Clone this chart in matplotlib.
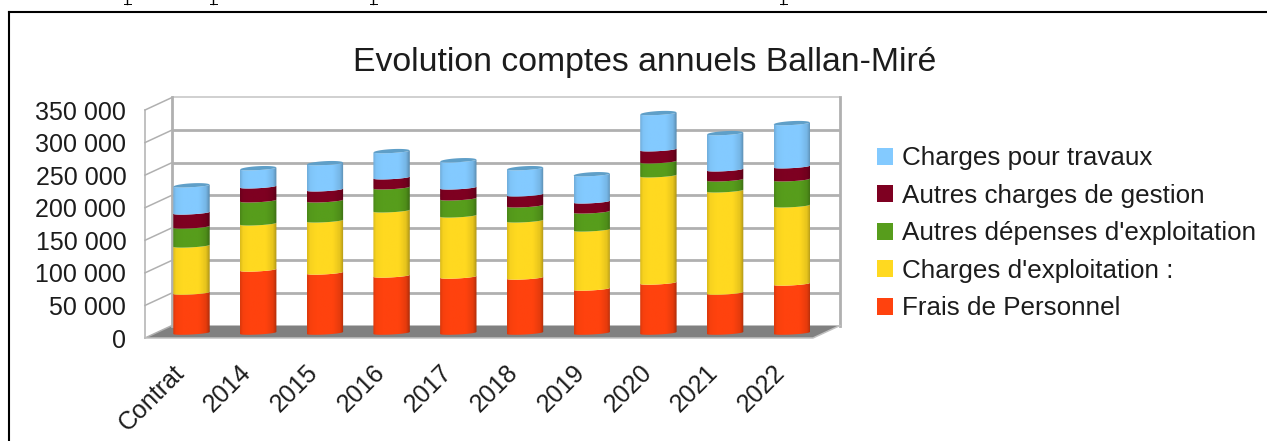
#!/usr/bin/env python3
# Evolution comptes annuels Ballan-Mire : stacked cylinders, LibreOffice style
import numpy as np
import matplotlib
matplotlib.use('Agg')
import matplotlib.pyplot as plt
from matplotlib.patches import Patch, PathPatch, Polygon
from matplotlib.path import Path
from matplotlib.transforms import ScaledTranslation

plt.rcParams['font.family'] = ['Liberation Sans', 'DejaVu Sans']

categories = ['Contrat', '2014', '2015', '2016', '2017', '2018', '2019', '2020', '2021', '2022']

frais_personnel = [61500, 96900, 92300, 87700, 86100, 84600, 67700, 76900, 61500, 75400]
charges_exploit = [72300, 70800, 80000, 100000, 93800, 87700, 90700, 164600, 156900, 120000]
autres_depenses = [29200, 35400, 30800, 35400, 26200, 23100, 27700, 21500, 16900, 40000]
autres_charges = [21500, 21500, 16900, 15400, 16900, 16900, 15400, 18500, 15400, 20000]
charges_travaux = [41600, 27800, 40100, 40100, 41600, 40100, 41600, 55500, 55500, 66200]

series = [frais_personnel, charges_exploit, autres_depenses, autres_charges, charges_travaux]
names = ['Frais de Personnel', "Charges d'exploitation :", "Autres dépenses d'exploitation",
         'Autres charges de gestion', 'Charges pour travaux']
colors = ['#ff420e', '#ffd920', '#579d1c', '#7e0021', '#83caff']

y_ticks = [0, 50000, 100000, 150000, 200000, 250000, 300000, 350000]

# descender stems of the line of text cut off above the picture
stem_x = [127, 213, 373, 783]

W, H = 1267, 441
fig = plt.figure(figsize=(W / 100, H / 100), dpi=100)

# axes = the front plane of the 3D box
ax = fig.add_axes([145 / W, 1 - 338 / H, (813 - 145) / W, (338 - 110) / H])
ax.patch.set_visible(False)
x0, x1 = (145 - 191.5) / 66.7, (813 - 191.5) / 66.7
y_px = 350000 / 228.0   # data units per pixel
x_px = 1 / 66.7
dx = 27 * x_px          # depth of the box
dy = 12.5 * y_px

# walls and grid
wall = '#b0b0b0'
ax.add_patch(Polygon([[x0, 0], [x1, 0], [x1 + dx, dy], [x0 + dx, dy]], fc='#808080', ec='none', zorder=1, clip_on=False))
for v in y_ticks:
    lw = 1.1 if v == 350000 else 2.0
    c = '#c4c4c4' if v == 350000 else wall
    ax.plot([x0, x0 + dx], [v, v + dy], c=wall, lw=1.1, zorder=1, clip_on=False)
    if v > 0:
        ax.plot([x0 + dx, x1 + dx], [v + dy, v + dy], c=c, lw=lw, zorder=1, clip_on=False, solid_capstyle='butt')
ax.plot([x0, x0], [0, 350000], c=wall, lw=1.1, zorder=1, clip_on=False)
ax.plot([x0 + dx, x0 + dx], [dy, 350000 + dy], c=wall, lw=2.0, zorder=1, clip_on=False)
ax.plot([x1 + dx, x1 + dx], [dy, 350000 + dy], c=wall, lw=2.0, zorder=1, clip_on=False)
ax.plot([x0, x1, x1 + dx], [0, 0, dy], c='#c0c0c0', lw=1.1, zorder=1, clip_on=False)

# cylinders
half = 18.2 * x_px
base = 5.0 * y_px
sag = 1.5 * y_px
tilt = 1.0 * y_px
t = np.linspace(-1, 1, 41)
front = -sag * np.sqrt(1 - t ** 2) + tilt * t
back = 1.6 * sag * np.sqrt(1 - t ** 2) + tilt * t
shade = np.interp(np.linspace(0, 1, 60), [0, 0.08, 0.25, 0.7, 0.9, 1], [0.86, 0.97, 1.0, 1.0, 0.9, 0.68])

for i in range(len(categories)):
    xs = i + t * half
    bottom = base
    for vals, col in zip(series, colors):
        top = bottom + vals[i]
        verts = np.r_[np.c_[xs, bottom + front], np.c_[xs[::-1], (top + front)[::-1]], [[xs[0], bottom + front[0]]]]
        patch = PathPatch(Path(verts), fc='none', ec='none', zorder=3)
        ax.add_patch(patch)
        rgb = np.array(matplotlib.colors.to_rgb(col))
        img = (shade[:, None] * rgb)[None, :, :]
        im = ax.imshow(img, extent=[i - half, i + half, bottom - 3 * sag, top + 3 * sag], aspect='auto', zorder=3, interpolation='bilinear')
        im.set_clip_path(patch)
        bottom = top
    cap = np.r_[np.c_[xs, bottom + front], np.c_[xs[::-1], (bottom + back)[::-1]]]
    ax.add_patch(Polygon(cap, fc='#5f9fc8', ec='none', zorder=4))

ax.set_xlim(x0, x1)
ax.set_ylim(0, 350000)
for s in ax.spines.values():
    s.set_visible(False)

txt = '#1c1c1c'
ax.set_yticks(y_ticks)
ax.set_yticklabels([f'{v:,}'.replace(',', ' ') for v in y_ticks], fontsize=18, color=txt)
ax.tick_params(axis='y', length=0, pad=13.5)
ax.set_xticks(range(len(categories)))
ax.set_xticklabels(categories, fontsize=18, color=txt, rotation=45, ha='right', va='top', rotation_mode='anchor')
ax.tick_params(axis='x', length=0, pad=16)
for lab in ax.get_xticklabels():
    lab.set_transform(lab.get_transform() + ScaledTranslation(-19 / 100, 0, fig.dpi_scale_trans))

fig.text(645 / W, 1 - 62 / H, 'Evolution comptes annuels Ballan-Miré', fontsize=24.3, color=txt, ha='center', va='center')

handles = [Patch(fc=c, ec='none') for c in colors[::-1]]
fig.legend(handles, names[::-1], loc='upper left', bbox_to_anchor=(854 / W, 1 - 123 / H), frameon=False,
           fontsize=18.7, labelcolor=txt, handlelength=0.62, handleheight=0.62, handletextpad=0.32, labelspacing=0.52, borderpad=0.4)

# frame of the pasted picture
fig.add_artist(plt.Line2D([9 / W, 1], [1 - 12 / H, 1 - 12 / H], c='black', lw=1.5))
fig.add_artist(plt.Line2D([9 / W, 9 / W], [0, 1 - 12 / H], c='black', lw=1.5))

for px in stem_x:
    fig.add_artist(plt.Line2D([px / W, px / W], [1, 1 - 3.5 / H], c='black', lw=1.0))
    fig.add_artist(plt.Line2D([(px - 3.5) / W, (px + 3.5) / W], [1 - 3.5 / H, 1 - 3.5 / H], c='black', lw=0.7))

fig.savefig('out.png', dpi=100)
